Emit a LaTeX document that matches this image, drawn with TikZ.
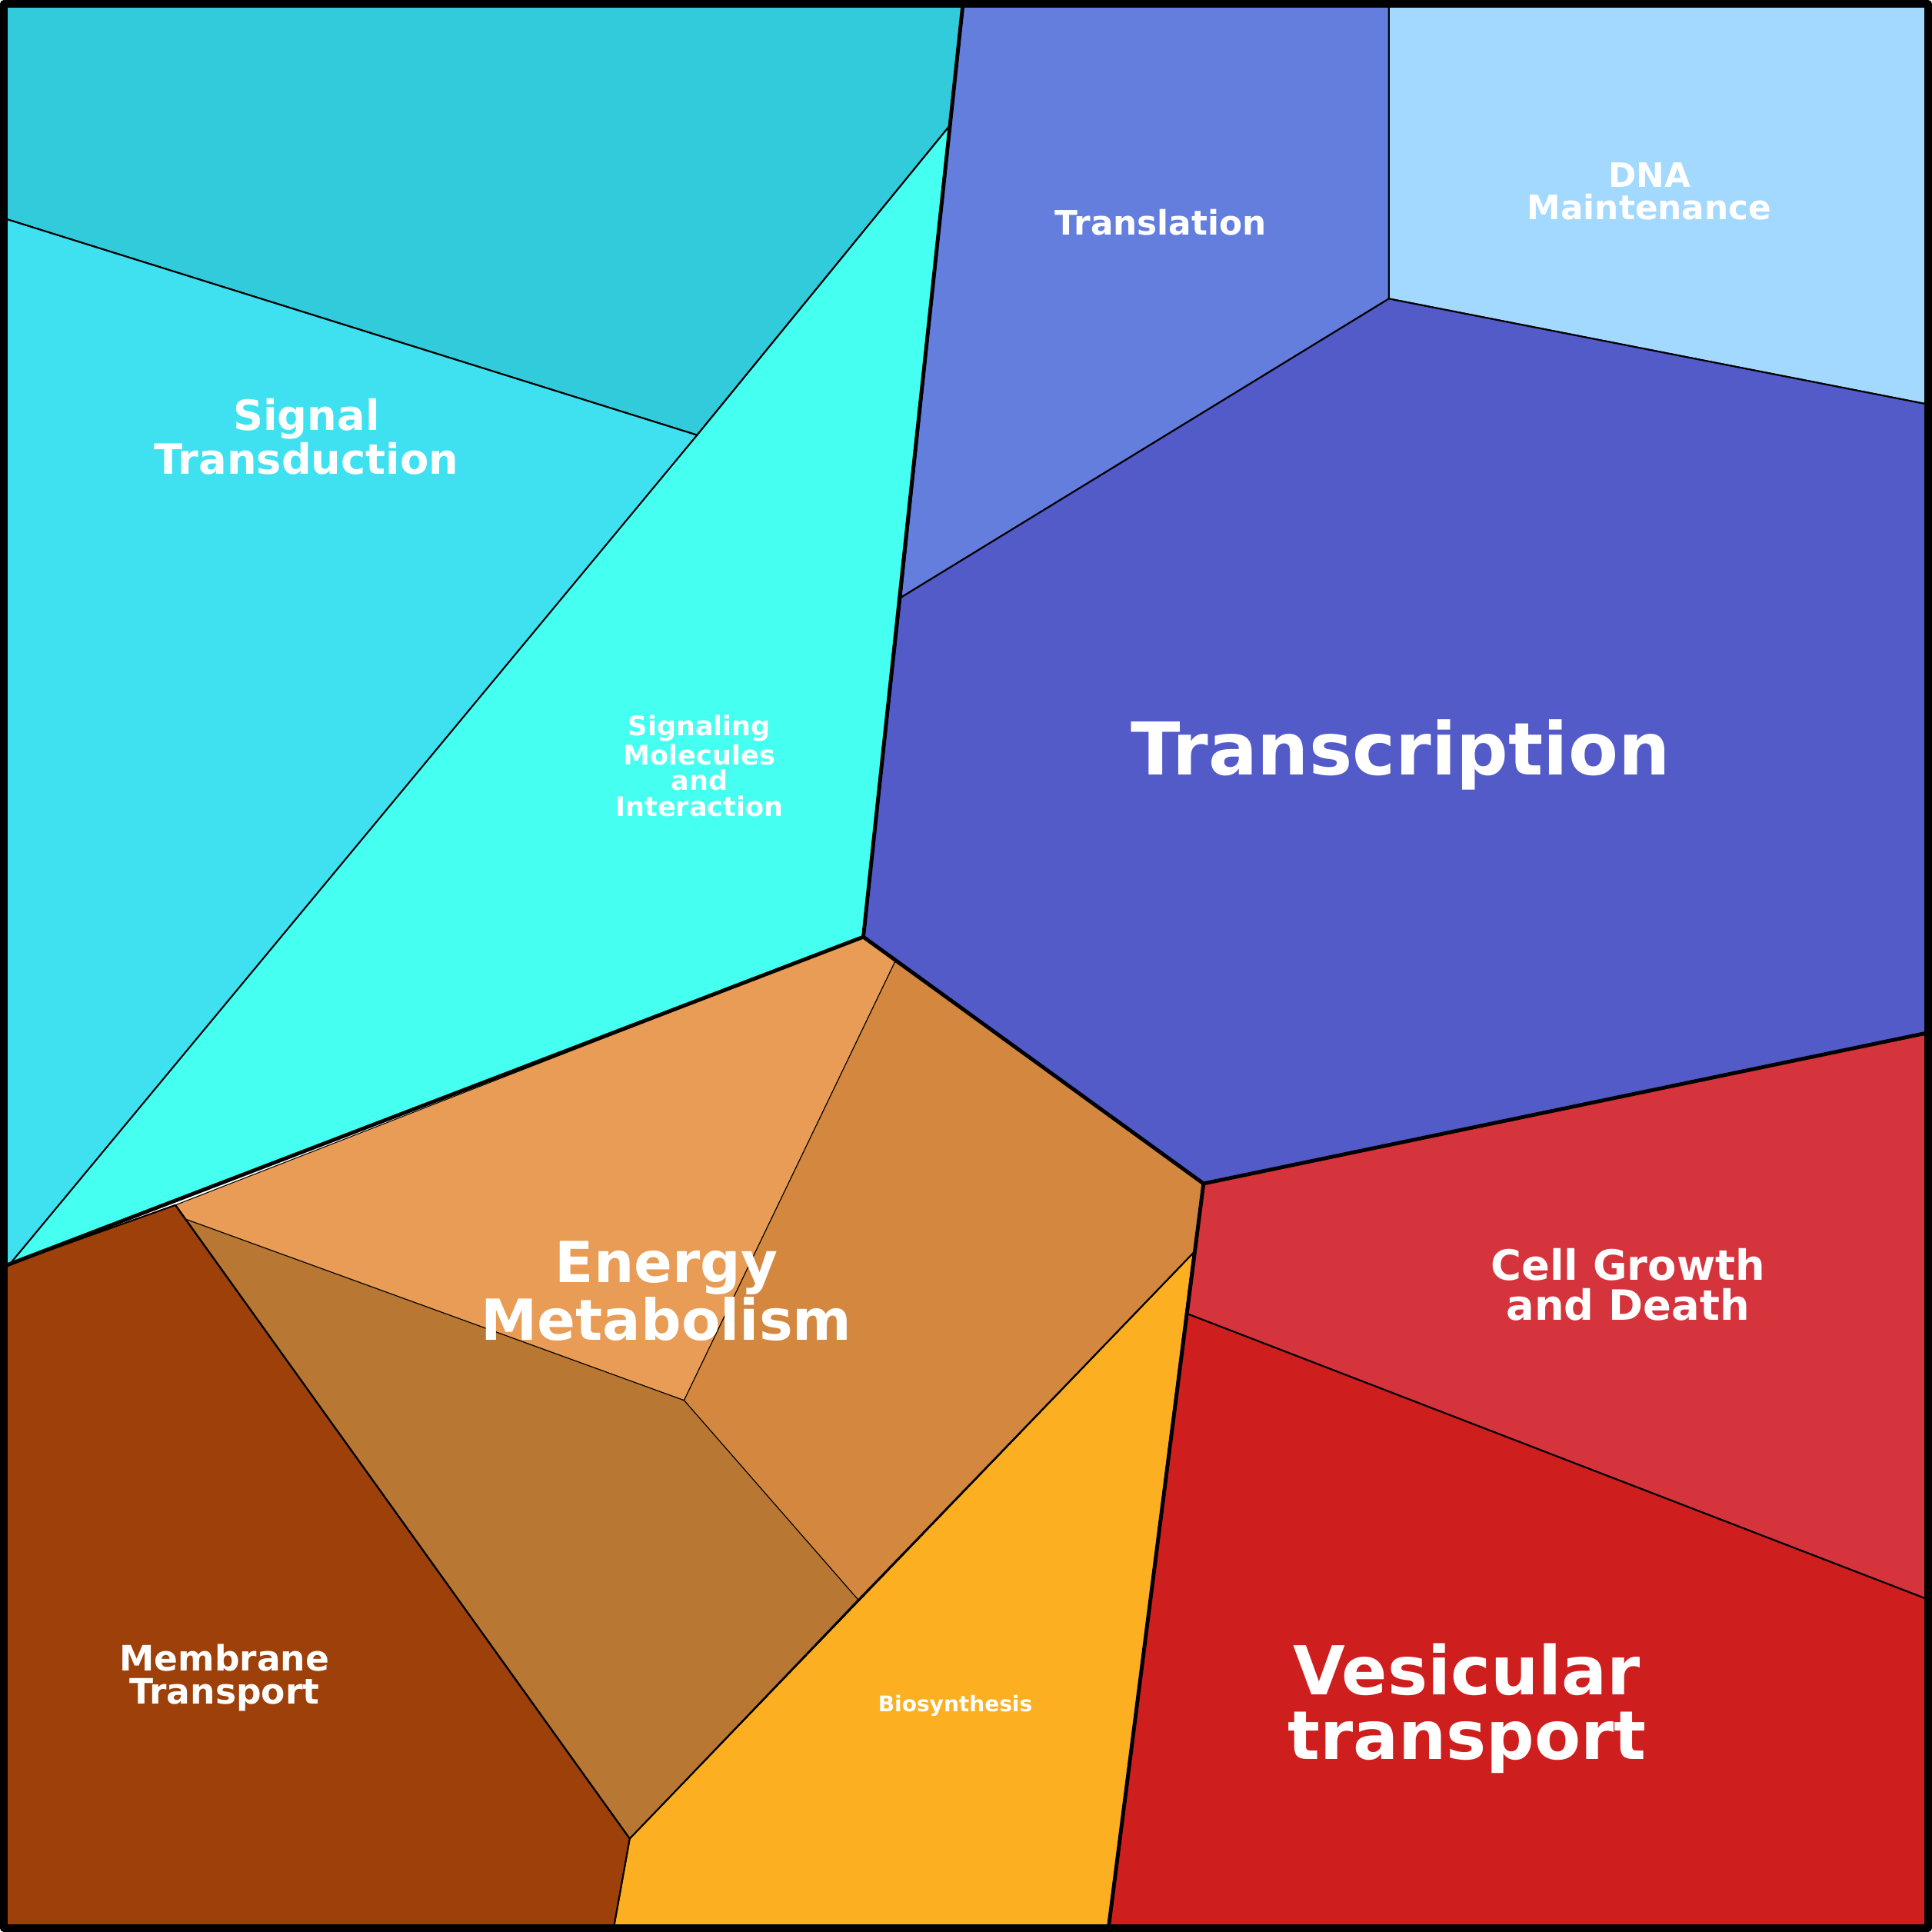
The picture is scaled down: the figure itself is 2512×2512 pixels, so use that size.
\documentclass[tikz,border=0pt]{standalone}
\usepackage{fontspec}
\setmainfont{DejaVu Sans}
\definecolor{sigtop}{HTML}{31CBDC}
\definecolor{sigtrans}{HTML}{3FE0F0}
\definecolor{sigmol}{HTML}{45FFF0}
\definecolor{transl}{HTML}{647EDD}
\definecolor{dnamaint}{HTML}{A3D8FF}
\definecolor{transcr}{HTML}{535BC8}
\definecolor{cellgrow}{HTML}{D5343D}
\definecolor{vesic}{HTML}{CF1E1E}
\definecolor{biosyn}{HTML}{FDAF22}
\definecolor{enlight}{HTML}{E89C55}
\definecolor{enmid}{HTML}{D4873E}
\definecolor{endark}{HTML}{B87833}
\definecolor{membr}{HTML}{9E400A}
\tikzset{
  cell/.style={draw=black, line width=0.6pt},
  group/.style={draw=black, line width=1.4pt},
  lbl/.style={text=white, font=\bfseries, align=center},
}
\begin{document}
\begin{tikzpicture}[x=0.01cm, y=-0.01cm, line join=round]
        \fill[sigtop, cell] (0,0) -- (1252,0) -- (1234,160) -- (905,563) -- (0,280) -- cycle;
        \fill[sigtrans, cell] (0,280) -- (905,563) -- (22,1643) -- (0,1650) -- cycle;
        \fill[sigmol, cell] (1234,160) -- (1122,1218) -- (8,1645) -- (905,563) -- cycle;
        \fill[transl, cell] (1252,0) -- (1808,0) -- (1808,385) -- (1171,775) -- cycle;
        \fill[dnamaint, cell] (1808,0) -- (2512,0) -- (2512,523) -- (1808,385) -- cycle;
        \fill[transcr, cell] (1171,775) -- (1808,385) -- (2512,523) -- (2512,1343) -- (1566,1540) -- (1122,1218) -- cycle;
        \fill[cellgrow, cell] (1566,1540) -- (2512,1343) -- (2512,2083) -- (1545,1710) -- cycle;
        \fill[vesic, cell] (1545,1710) -- (2512,2083) -- (2512,2512) -- (1442,2512) -- cycle;
        \fill[biosyn, cell] (1553,1630) -- (1442,2512) -- (796,2512) -- (817,2395) -- cycle;
        \fill[enlight, draw=black, line width=0.3pt] (1122,1218) -- (1164,1249) -- (888,1823) -- (236,1586) -- (224,1568) -- cycle;
        \fill[enmid, draw=black, line width=0.3pt] (1164,1249) -- (1566,1540) -- (1553,1630) -- (1115,2083) -- (888,1823) -- cycle;
        \fill[endark, draw=black, line width=0.3pt] (236,1586) -- (888,1823) -- (1115,2083) -- (817,2395) -- cycle;
        \fill[membr, cell] (0,1648) -- (224,1568) -- (817,2395) -- (796,2512) -- (0,2512) -- cycle;

        % group borders
        \draw[group] (1252,0) -- (1122,1218) -- (1566,1540) -- (2512,1343);
        \draw[group] (1122,1218) -- (0,1648);
        \draw[group] (1566,1540) -- (1442,2512);
        \draw[cell] (1553,1630) -- (817,2395) -- (224,1568);
        \draw[black, line width=2.8pt] (0,0) rectangle (2512,2512);

        \node[lbl, font=\bfseries\fontsize{15.5}{15}\selectfont] (st) at (395,565) {Signal\\Transduction};
        \node[lbl, font=\bfseries\fontsize{12.5}{12}\selectfont] (tl) at (1510,285) {Translation};
        \node[lbl, font=\bfseries\fontsize{12.5}{12}\selectfont] (dna) at (2148,245) {DNA\\Maintenance};
        \node[lbl, font=\bfseries\fontsize{10}{9.5}\selectfont] (sm) at (908,995) {Signaling\\Molecules\\and\\Interaction};
        \node[lbl, font=\bfseries\fontsize{27}{27}\selectfont] (tc) at (1823,980) {Transcription};
        \node[lbl, font=\bfseries\fontsize{21}{20}\selectfont] (em) at (865,1680) {Energy\\Metabolism};
        \node[lbl, font=\bfseries\fontsize{15.5}{15}\selectfont] (cg) at (2120,1672) {Cell Growth\\and Death};
        \node[lbl, font=\bfseries\fontsize{13}{12.5}\selectfont] (mt) at (288,2185) {Membrane\\Transport};
        \node[lbl, font=\bfseries\fontsize{25}{24}\selectfont] (vt) at (1910,2225) {Vesicular\\transport};
        \node[lbl, font=\bfseries\fontsize{8}{8}\selectfont] (bs) at (1242,2222) {Biosynthesis};
\end{tikzpicture}
\end{document}
